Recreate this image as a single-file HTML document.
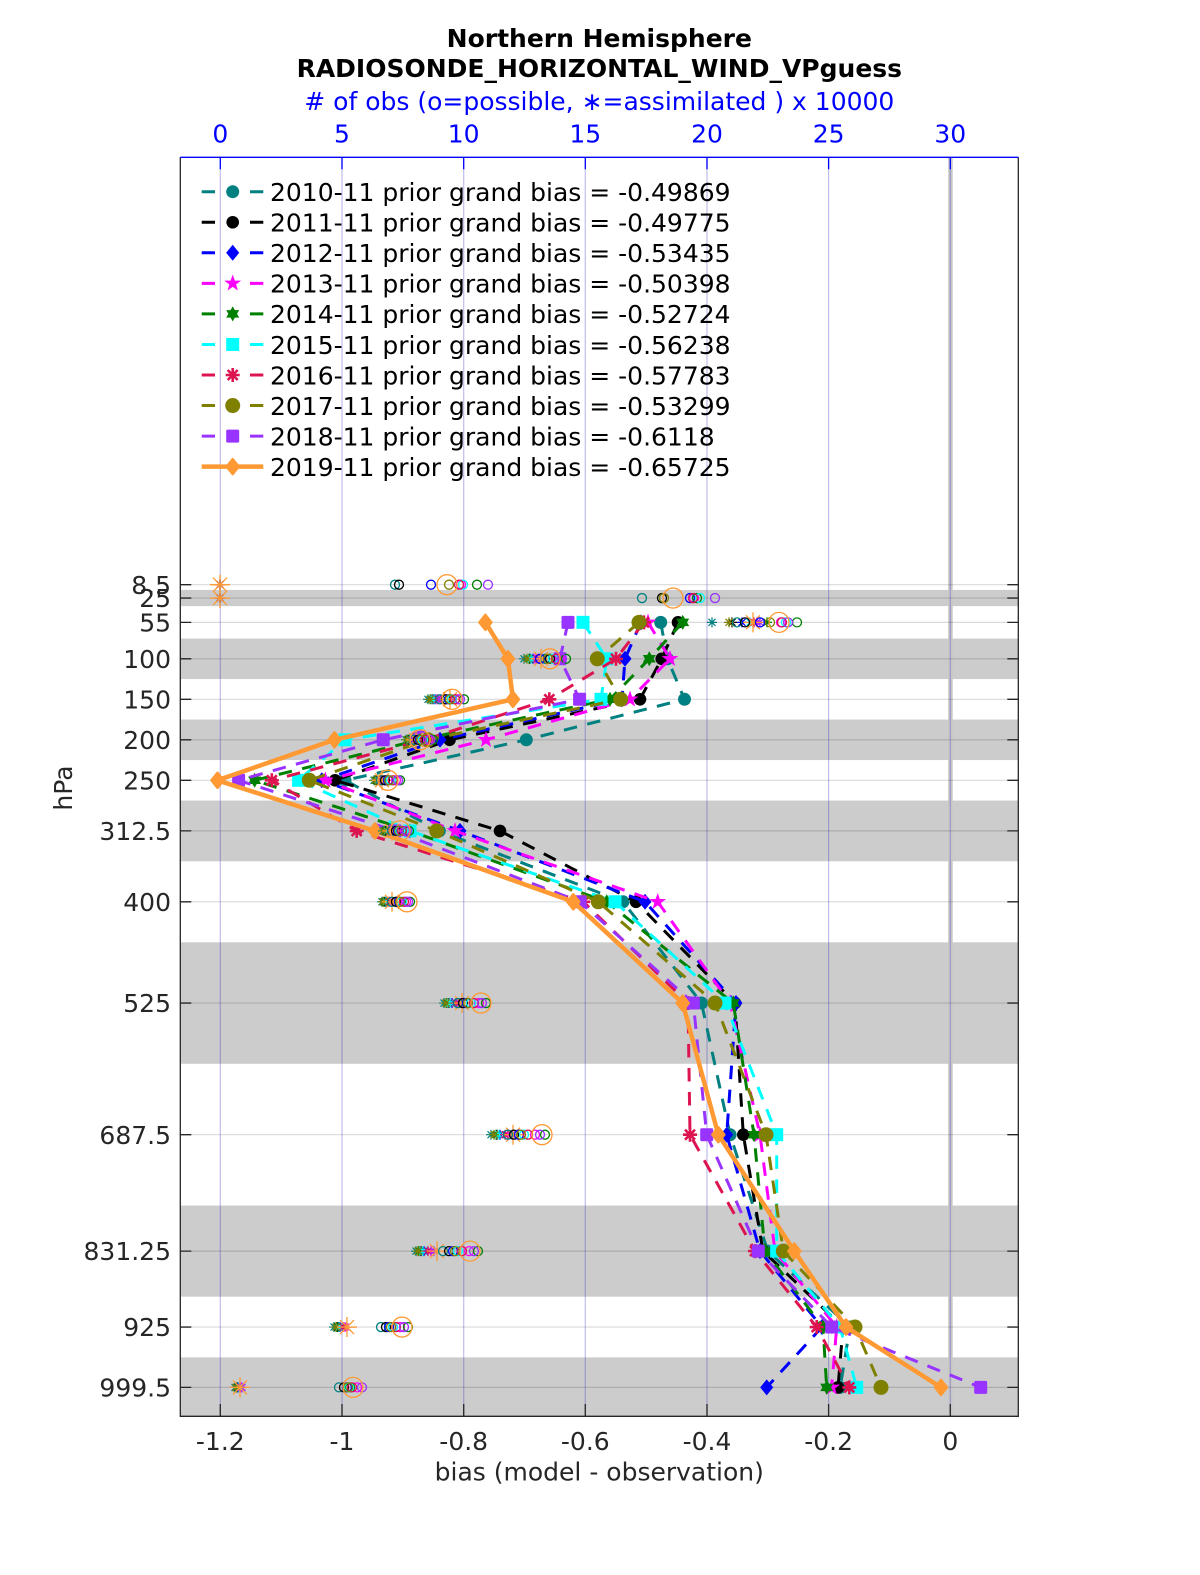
<!DOCTYPE html>
<html><head><meta charset="utf-8"><style>
html,body{margin:0;padding:0;background:#fff}
svg{display:block}
text{font-family:"DejaVu Sans","Liberation Sans",sans-serif}
</style></head><body>
<svg width="1200" height="1575" viewBox="0 0 1200 1575" xmlns="http://www.w3.org/2000/svg">
<defs>
<marker id="m0" markerUnits="userSpaceOnUse" refX="0" refY="0" overflow="visible"><circle r="6.5" fill="#008080"/></marker>
<marker id="m1" markerUnits="userSpaceOnUse" refX="0" refY="0" overflow="visible"><circle r="6.3" fill="#000"/></marker>
<marker id="m2" markerUnits="userSpaceOnUse" refX="0" refY="0" overflow="visible"><polygon points="0,-8 6.5,0 0,8 -6.5,0" fill="#0000ff"/></marker>
<marker id="m3" markerUnits="userSpaceOnUse" refX="0" refY="0" overflow="visible"><polygon points="0,-7 1.65,-2.27 6.66,-2.16 2.66,0.87 4.11,5.66 0,2.8 -4.11,5.66 -2.66,0.87 -6.66,-2.16 -1.65,-2.27" fill="#ff00ff" stroke="#ff00ff" stroke-width="1.2"/></marker>
<marker id="m4" markerUnits="userSpaceOnUse" refX="0" refY="0" overflow="visible"><polygon points="0,-7.5 2.17,-3.75 6.5,-3.75 4.33,0 6.5,3.75 2.17,3.75 0,7.5 -2.17,3.75 -6.5,3.75 -4.33,0 -6.5,-3.75 -2.17,-3.75" fill="#008000"/></marker>
<marker id="m5" markerUnits="userSpaceOnUse" refX="0" refY="0" overflow="visible"><rect x="-6.5" y="-6.5" width="13" height="13" fill="#00ffff"/></marker>
<marker id="m6" markerUnits="userSpaceOnUse" refX="0" refY="0" overflow="visible"><path d="M-7,0H7M0,-7V7M-5,-5L5,5M-5,5L5,-5" stroke="#dc1450" stroke-width="2.6" fill="none"/><circle r="3" fill="#dc1450"/></marker>
<marker id="m7" markerUnits="userSpaceOnUse" refX="0" refY="0" overflow="visible"><circle r="7.5" fill="#808000"/></marker>
<marker id="m8" markerUnits="userSpaceOnUse" refX="0" refY="0" overflow="visible"><rect x="-6.5" y="-6.5" width="13" height="13" rx="1.5" fill="#9933ff"/></marker>
<marker id="m9" markerUnits="userSpaceOnUse" refX="0" refY="0" overflow="visible"><polygon points="0,-7.5 6,0 0,7.5 -6,0" fill="#ff9933" stroke="#ff9933" stroke-width="2.5" stroke-linejoin="round"/></marker>

<marker id="c0" markerUnits="userSpaceOnUse" refX="0" refY="0" overflow="visible"><circle r="4.5" fill="none" stroke="#008080" stroke-width="1.3"/></marker>
<marker id="c1" markerUnits="userSpaceOnUse" refX="0" refY="0" overflow="visible"><circle r="4.5" fill="none" stroke="#000" stroke-width="1.3"/></marker>
<marker id="c2" markerUnits="userSpaceOnUse" refX="0" refY="0" overflow="visible"><circle r="4.5" fill="none" stroke="#0000ff" stroke-width="1.3"/></marker>
<marker id="c3" markerUnits="userSpaceOnUse" refX="0" refY="0" overflow="visible"><circle r="4.5" fill="none" stroke="#ff00ff" stroke-width="1.3"/></marker>
<marker id="c4" markerUnits="userSpaceOnUse" refX="0" refY="0" overflow="visible"><circle r="4.5" fill="none" stroke="#008000" stroke-width="1.3"/></marker>
<marker id="c5" markerUnits="userSpaceOnUse" refX="0" refY="0" overflow="visible"><circle r="4.5" fill="none" stroke="#00ffff" stroke-width="1.3"/></marker>
<marker id="c6" markerUnits="userSpaceOnUse" refX="0" refY="0" overflow="visible"><circle r="4.5" fill="none" stroke="#dc1450" stroke-width="1.3"/></marker>
<marker id="c7" markerUnits="userSpaceOnUse" refX="0" refY="0" overflow="visible"><circle r="4.5" fill="none" stroke="#808000" stroke-width="1.3"/></marker>
<marker id="c8" markerUnits="userSpaceOnUse" refX="0" refY="0" overflow="visible"><circle r="4.5" fill="none" stroke="#9933ff" stroke-width="1.3"/></marker>
<marker id="c9" markerUnits="userSpaceOnUse" refX="0" refY="0" overflow="visible"><circle r="10" fill="none" stroke="#ff9933" stroke-width="1.3"/></marker>

<marker id="a0" markerUnits="userSpaceOnUse" refX="0" refY="0" overflow="visible"><path d="M-5,0H5M0,-5V5M-3.5,-3.5L3.5,3.5M-3.5,3.5L3.5,-3.5" stroke="#008080" stroke-width="1.2"/></marker>
<marker id="a1" markerUnits="userSpaceOnUse" refX="0" refY="0" overflow="visible"><path d="M-5,0H5M0,-5V5M-3.5,-3.5L3.5,3.5M-3.5,3.5L3.5,-3.5" stroke="#000" stroke-width="1.2"/></marker>
<marker id="a2" markerUnits="userSpaceOnUse" refX="0" refY="0" overflow="visible"><path d="M-5,0H5M0,-5V5M-3.5,-3.5L3.5,3.5M-3.5,3.5L3.5,-3.5" stroke="#0000ff" stroke-width="1.2"/></marker>
<marker id="a3" markerUnits="userSpaceOnUse" refX="0" refY="0" overflow="visible"><path d="M-5,0H5M0,-5V5M-3.5,-3.5L3.5,3.5M-3.5,3.5L3.5,-3.5" stroke="#ff00ff" stroke-width="1.2"/></marker>
<marker id="a4" markerUnits="userSpaceOnUse" refX="0" refY="0" overflow="visible"><path d="M-5,0H5M0,-5V5M-3.5,-3.5L3.5,3.5M-3.5,3.5L3.5,-3.5" stroke="#008000" stroke-width="1.2"/></marker>
<marker id="a5" markerUnits="userSpaceOnUse" refX="0" refY="0" overflow="visible"><path d="M-5,0H5M0,-5V5M-3.5,-3.5L3.5,3.5M-3.5,3.5L3.5,-3.5" stroke="#00ffff" stroke-width="1.2"/></marker>
<marker id="a6" markerUnits="userSpaceOnUse" refX="0" refY="0" overflow="visible"><path d="M-5,0H5M0,-5V5M-3.5,-3.5L3.5,3.5M-3.5,3.5L3.5,-3.5" stroke="#dc1450" stroke-width="1.2"/></marker>
<marker id="a7" markerUnits="userSpaceOnUse" refX="0" refY="0" overflow="visible"><path d="M-5,0H5M0,-5V5M-3.5,-3.5L3.5,3.5M-3.5,3.5L3.5,-3.5" stroke="#808000" stroke-width="1.2"/></marker>
<marker id="a8" markerUnits="userSpaceOnUse" refX="0" refY="0" overflow="visible"><path d="M-5,0H5M0,-5V5M-3.5,-3.5L3.5,3.5M-3.5,3.5L3.5,-3.5" stroke="#9933ff" stroke-width="1.2"/></marker>
<marker id="a9" markerUnits="userSpaceOnUse" refX="0" refY="0" overflow="visible"><path d="M-10,0H10M0,-10V10M-7,-7L7,7M-7,7L7,-7" stroke="#ff9933" stroke-width="1.3"/></marker>
</defs>

<rect x="0" y="0" width="1200" height="1575" fill="#fff"/>

<!-- gray bands -->
<g fill="#cccccc">
<rect x="180.3" y="589.95" width="838" height="16.2"/>
<rect x="180.3" y="638.55" width="838" height="40.5"/>
<rect x="180.3" y="719.55" width="838" height="40.5"/>
<rect x="180.3" y="800.55" width="838" height="60.75"/>
<rect x="180.3" y="942.3" width="838" height="121.5"/>
<rect x="180.3" y="1205.55" width="838" height="91.15"/>
<rect x="180.3" y="1357.4" width="838" height="58.6"/>
</g>

<!-- zero strip -->
<rect x="948.2" y="157.3" width="4.5" height="1258.7" fill="#c8c8c8"/>

<!-- horizontal grid -->
<g stroke="rgba(0,0,0,0.15)" stroke-width="1.2">
<path d="M180.3,584.7H1018.3M180.3,598.05H1018.3M180.3,622.35H1018.3M180.3,658.8H1018.3M180.3,699.3H1018.3M180.3,739.8H1018.3M180.3,780.3H1018.3M180.3,830.9H1018.3M180.3,901.8H1018.3M180.3,1003.05H1018.3M180.3,1134.7H1018.3M180.3,1251.1H1018.3M180.3,1327.05H1018.3M180.3,1387.4H1018.3"/>
</g>
<!-- vertical grid -->
<g stroke="rgba(40,40,190,0.3)" stroke-width="1.2">
<path d="M220.3,157.3V1416M342,157.3V1416M463.7,157.3V1416M585.3,157.3V1416M707,157.3V1416M828.6,157.3V1416M950.3,157.3V1416"/>
</g>

<!-- data series -->
<g fill="none" stroke-width="3" stroke-dasharray="13.5 10.5">
<polyline stroke="#008080" marker-start="url(#m0)" marker-mid="url(#m0)" marker-end="url(#m0)" points="660.7,622.35 667.4,658.8 684.5,699.3 526.3,739.8 345,780.3 439.3,830.9 623,901.8 701.5,1003.05 730.1,1134.7 767.8,1251.1 849.9,1327.05 840.2,1387.4"/>
<polyline stroke="#000" marker-start="url(#m1)" marker-mid="url(#m1)" marker-end="url(#m1)" points="678,622.35 661.7,658.8 640,699.3 449.6,739.8 335,780.3 500,830.9 636,901.8 735,1003.05 743.3,1134.7 763,1251.1 843,1327.05 838,1387.4"/>
<polyline stroke="#0000ff" marker-start="url(#m2)" marker-mid="url(#m2)" marker-end="url(#m2)" points="641,622.35 625,658.8 622,699.3 440,739.8 321.8,780.3 460,830.9 645,901.8 736,1003.05 726.7,1134.7 760,1251.1 822,1327.05 766.7,1387.4"/>
<polyline stroke="#ff00ff" marker-start="url(#m3)" marker-mid="url(#m3)" marker-end="url(#m3)" points="648,622.35 670,658.8 630,699.3 486,739.8 325.4,780.3 455,830.9 657.7,901.8 730,1003.05 760,1134.7 775,1251.1 836.7,1327.05 831.7,1387.4"/>
<polyline stroke="#008000" marker-start="url(#m4)" marker-mid="url(#m4)" marker-end="url(#m4)" points="682.7,622.35 649.3,658.8 610,699.3 420,739.8 254.6,780.3 410,830.9 606.7,901.8 733.3,1003.05 754,1134.7 765,1251.1 823,1327.05 826.7,1387.4"/>
<polyline stroke="#00ffff" marker-start="url(#m5)" marker-mid="url(#m5)" marker-end="url(#m5)" points="583,622.35 606.7,658.8 601,699.3 345,739.8 298.6,780.3 410,830.9 615,901.8 725,1003.05 776.7,1134.7 776.7,1251.1 840,1327.05 856.7,1387.4"/>
<polyline stroke="#dc1450" marker-start="url(#m6)" marker-mid="url(#m6)" marker-end="url(#m6)" points="644,622.35 616,658.8 549.3,699.3 425,739.8 271.8,780.3 356.7,830.9 583.3,901.8 688,1003.05 690,1134.7 755,1251.1 816.7,1327.05 849.3,1387.4"/>
<polyline stroke="#808000" marker-start="url(#m7)" marker-mid="url(#m7)" marker-end="url(#m7)" points="639,622.35 597.3,658.8 620.7,699.3 428,739.8 309.3,780.3 436.7,830.9 598.3,901.8 715,1003.05 766,1134.7 783.3,1251.1 855,1327.05 881,1387.4"/>
<polyline stroke="#9933ff" marker-start="url(#m8)" marker-mid="url(#m8)" marker-end="url(#m8)" points="568,622.35 560,658.8 579.6,699.3 383.2,739.8 238.6,780.3 395,830.9 580,901.8 693.3,1003.05 706.7,1134.7 758.3,1251.1 831.7,1327.05 980.7,1387.4"/>
</g>
<polyline fill="none" stroke="#ff9933" stroke-width="4.5" stroke-linejoin="round" marker-start="url(#m9)" marker-mid="url(#m9)" marker-end="url(#m9)" points="485.4,622.35 507.9,658.8 512.9,699.3 334.5,739.8 217.5,780.3 375,830.9 573.3,901.8 682.7,1003.05 718.3,1134.7 794.3,1251.1 846,1327.05 941,1387.4"/>

<!-- obs: asterisks (assimilated) -->
<g fill="none" stroke="none">
<polyline style="marker:url(#a0)" points="220,584.7 220,598.05 712,622.35 524,658.8 428,699.3 406,739.8 374,780.3 383,830.9 382,901.8 444,1003.05 491,1134.7 416,1251.1 334,1327.05 235,1387.4"/>
<polyline style="marker:url(#a1)" points="220,584.7 220,598.05 732,622.35 530,658.8 433,699.3 409,739.8 377,780.3 386,830.9 385,901.8 449,1003.05 497,1134.7 421,1251.1 338,1327.05 237,1387.4"/>
<polyline style="marker:url(#a2)" points="220,584.7 220,598.05 742,622.35 533,658.8 435,699.3 411,739.8 379,780.3 388,830.9 387,901.8 452,1003.05 500,1134.7 424,1251.1 340,1327.05 238,1387.4"/>
<polyline style="marker:url(#a3)" points="220,584.7 220,598.05 757,622.35 535,658.8 437,699.3 412,739.8 380,780.3 391,830.9 390,901.8 458,1003.05 508,1134.7 431,1251.1 345,1327.05 241,1387.4"/>
<polyline style="marker:url(#a4)" points="220,584.7 220,598.05 767,622.35 529,658.8 431,699.3 408,739.8 376,780.3 385,830.9 384,901.8 447,1003.05 496,1134.7 419,1251.1 337,1327.05 237,1387.4"/>
<polyline style="marker:url(#a5)" points="220,584.7 220,598.05 750,622.35 531,658.8 434,699.3 410,739.8 378,780.3 387,830.9 386,901.8 450,1003.05 499,1134.7 423,1251.1 339,1327.05 239,1387.4"/>
<polyline style="marker:url(#a6)" points="220,584.7 220,598.05 754,622.35 537,658.8 438,699.3 413,739.8 381,780.3 390,830.9 389,901.8 456,1003.05 505,1134.7 428,1251.1 343,1327.05 240,1387.4"/>
<polyline style="marker:url(#a7)" points="220,584.7 220,598.05 729,622.35 527,658.8 430,699.3 407,739.8 375,780.3 384,830.9 383,901.8 446,1003.05 494,1134.7 418,1251.1 336,1327.05 236,1387.4"/>
<polyline style="marker:url(#a8)" points="220,584.7 220,598.05 760,622.35 539,658.8 440,699.3 414,739.8 383,780.3 393,830.9 392,901.8 460,1003.05 512,1134.7 434,1251.1 347,1327.05 242,1387.4"/>
<polyline style="marker:url(#a9)" points="220,584.7 220,598.05 753,622.35 541,658.8 450,699.3 416,739.8 382,780.3 392,830.9 392,901.8 462,1003.05 513,1134.7 437,1251.1 347,1327.05 240,1387.4"/>
</g>
<!-- obs: circles (possible) -->
<g fill="none" stroke="none">
<polyline style="marker:url(#c0)" points="395,584.7 642,598.05 737,622.35 545,658.8 440,699.3 414,739.8 381,780.3 392,830.9 392,901.8 458,1003.05 508,1134.7 443,1251.1 381,1327.05 339,1387.4"/>
<polyline style="marker:url(#c1)" points="399,584.7 662,598.05 745,622.35 550,658.8 446,699.3 418,739.8 385,780.3 396,830.9 396,901.8 463,1003.05 514,1134.7 449,1251.1 386,1327.05 344,1387.4"/>
<polyline style="marker:url(#c2)" points="431,584.7 690,598.05 760,622.35 540,658.8 449,699.3 420,739.8 388,780.3 398,830.9 399,901.8 467,1003.05 519,1134.7 453,1251.1 389,1327.05 347,1387.4"/>
<polyline style="marker:url(#c3)" points="461,584.7 694,598.05 781,622.35 560,658.8 458,699.3 428,739.8 396,780.3 405,830.9 406,901.8 479,1003.05 535,1134.7 469,1251.1 400,1327.05 357,1387.4"/>
<polyline style="marker:url(#c4)" points="477,584.7 697,598.05 797,622.35 566,658.8 464,699.3 433,739.8 400,780.3 409,830.9 410,901.8 486,1003.05 545,1134.7 478,1251.1 408,1327.05 350,1387.4"/>
<polyline style="marker:url(#c5)" points="463,584.7 700,598.05 786,622.35 553,658.8 452,699.3 423,739.8 391,780.3 400,830.9 402,901.8 471,1003.05 524,1134.7 458,1251.1 393,1327.05 349,1387.4"/>
<polyline style="marker:url(#c6)" points="459,584.7 693,598.05 782,622.35 556,658.8 455,699.3 425,739.8 393,780.3 402,830.9 404,901.8 474,1003.05 528,1134.7 462,1251.1 396,1327.05 352,1387.4"/>
<polyline style="marker:url(#c7)" points="449,584.7 664,598.05 770,622.35 548,658.8 450,699.3 421,739.8 389,780.3 399,830.9 400,901.8 468,1003.05 521,1134.7 455,1251.1 391,1327.05 348,1387.4"/>
<polyline style="marker:url(#c8)" points="488,584.7 715,598.05 788,622.35 562,658.8 460,699.3 430,739.8 398,780.3 407,830.9 408,901.8 482,1003.05 540,1134.7 474,1251.1 404,1327.05 362,1387.4"/>
<polyline style="marker:url(#c9)" points="447,584.7 673,598.05 779,622.35 550,658.8 452,699.3 420,739.8 388,780.3 400,830.9 407,901.8 481,1003.05 542,1134.7 470,1251.1 402,1327.05 353,1387.4"/>
</g>

<!-- ticks -->
<g stroke="#262626" stroke-width="1.3">
<path d="M180.3,584.7h11M180.3,598.05h11M180.3,622.35h11M180.3,658.8h11M180.3,699.3h11M180.3,739.8h11M180.3,780.3h11M180.3,830.9h11M180.3,901.8h11M180.3,1003.05h11M180.3,1134.7h11M180.3,1251.1h11M180.3,1327.05h11M180.3,1387.4h11"/>
<path d="M1018.3,584.7h-11M1018.3,598.05h-11M1018.3,622.35h-11M1018.3,658.8h-11M1018.3,699.3h-11M1018.3,739.8h-11M1018.3,780.3h-11M1018.3,830.9h-11M1018.3,901.8h-11M1018.3,1003.05h-11M1018.3,1134.7h-11M1018.3,1251.1h-11M1018.3,1327.05h-11M1018.3,1387.4h-11"/>
<path d="M220.3,1416v-12M342,1416v-12M463.7,1416v-12M585.3,1416v-12M707,1416v-12M828.6,1416v-12M950.3,1416v-12"/>
<path d="M180.3,157.3V1416.3H1018.3V157.3" fill="none"/>
</g>
<g stroke="#0000ff" stroke-width="1.3">
<path d="M180.3,157.3H1018.3"/>
<path d="M220.3,157.3v12M342,157.3v12M463.7,157.3v12M585.3,157.3v12M707,157.3v12M828.6,157.3v12M950.3,157.3v12"/>
</g>

<!-- legend -->
<g stroke-width="3" fill="none">
<path stroke="#008080" d="M201.7,191.7h13.3M250,191.7h13.3"/>
<path stroke="#000" d="M201.7,222.25h13.3M250,222.25h13.3"/>
<path stroke="#0000ff" d="M201.7,252.8h13.3M250,252.8h13.3"/>
<path stroke="#ff00ff" d="M201.7,283.35h13.3M250,283.35h13.3"/>
<path stroke="#008000" d="M201.7,313.9h13.3M250,313.9h13.3"/>
<path stroke="#00ffff" d="M201.7,344.45h13.3M250,344.45h13.3"/>
<path stroke="#dc1450" d="M201.7,375h13.3M250,375h13.3"/>
<path stroke="#808000" d="M201.7,405.55h13.3M250,405.55h13.3"/>
<path stroke="#9933ff" d="M201.7,436.1h13.3M250,436.1h13.3"/>
<path stroke="#ff9933" stroke-width="4.5" d="M201.7,466.65H263.3"/>
</g>
<g fill="none" stroke="none">
<path d="M232.7,191.7h0.01" marker-start="url(#m0)"/>
<path d="M232.7,222.25h0.01" marker-start="url(#m1)"/>
<path d="M232.7,252.8h0.01" marker-start="url(#m2)"/>
<path d="M232.7,283.35h0.01" marker-start="url(#m3)"/>
<path d="M232.7,313.9h0.01" marker-start="url(#m4)"/>
<path d="M232.7,344.45h0.01" marker-start="url(#m5)"/>
<path d="M232.7,375h0.01" marker-start="url(#m6)"/>
<path d="M232.7,405.55h0.01" marker-start="url(#m7)"/>
<path d="M232.7,436.1h0.01" marker-start="url(#m8)"/>
<path d="M232.7,466.65h0.01" marker-start="url(#m9)"/>
</g>
<g font-size="25" fill="#000">
<text x="270" y="201">2010-11 prior grand bias = -0.49869</text>
<text x="270" y="231.55">2011-11 prior grand bias = -0.49775</text>
<text x="270" y="262.1">2012-11 prior grand bias = -0.53435</text>
<text x="270" y="292.65">2013-11 prior grand bias = -0.50398</text>
<text x="270" y="323.2">2014-11 prior grand bias = -0.52724</text>
<text x="270" y="353.75">2015-11 prior grand bias = -0.56238</text>
<text x="270" y="384.3">2016-11 prior grand bias = -0.57783</text>
<text x="270" y="414.85">2017-11 prior grand bias = -0.53299</text>
<text x="270" y="445.4">2018-11 prior grand bias = -0.6118</text>
<text x="270" y="475.95">2019-11 prior grand bias = -0.65725</text>
</g>

<!-- titles -->
<g font-size="25" font-weight="bold" fill="#000" text-anchor="middle">
<text x="599.3" y="47">Northern Hemisphere</text>
<text x="599.3" y="77">RADIOSONDE_HORIZONTAL_WIND_VPguess</text>
</g>
<text x="599.3" y="110" font-size="25" fill="#0000ff" text-anchor="middle"># of obs (o=possible, ∗=assimilated ) x 10000</text>

<!-- top tick labels -->
<g font-size="25" fill="#0000ff" text-anchor="middle">
<text x="220.3" y="142.7">0</text>
<text x="342" y="142.7">5</text>
<text x="463.7" y="142.7">10</text>
<text x="585.3" y="142.7">15</text>
<text x="707" y="142.7">20</text>
<text x="828.6" y="142.7">25</text>
<text x="950.3" y="142.7">30</text>
</g>

<!-- bottom tick labels -->
<g font-size="25" fill="#262626" text-anchor="middle">
<text x="220.3" y="1450">-1.2</text>
<text x="342" y="1450">-1</text>
<text x="463.7" y="1450">-0.8</text>
<text x="585.3" y="1450">-0.6</text>
<text x="707" y="1450">-0.4</text>
<text x="828.6" y="1450">-0.2</text>
<text x="950.3" y="1450">0</text>
<text x="599.3" y="1480.7">bias (model - observation)</text>
</g>

<!-- left tick labels -->
<g font-size="25" fill="#262626" text-anchor="end">
<text x="171" y="593.8">8.5</text>
<text x="171" y="607.2">25</text>
<text x="171" y="631.5">55</text>
<text x="171" y="667.9">100</text>
<text x="171" y="708.4">150</text>
<text x="171" y="748.9">200</text>
<text x="171" y="789.4">250</text>
<text x="171" y="840">312.5</text>
<text x="171" y="910.9">400</text>
<text x="171" y="1012.2">525</text>
<text x="171" y="1143.8">687.5</text>
<text x="171" y="1260.2">831.25</text>
<text x="171" y="1336.2">925</text>
<text x="171" y="1396.5">999.5</text>
</g>
<text transform="translate(72,788) rotate(-90)" font-size="25" fill="#262626" text-anchor="middle">hPa</text>
</svg>
</body></html>
